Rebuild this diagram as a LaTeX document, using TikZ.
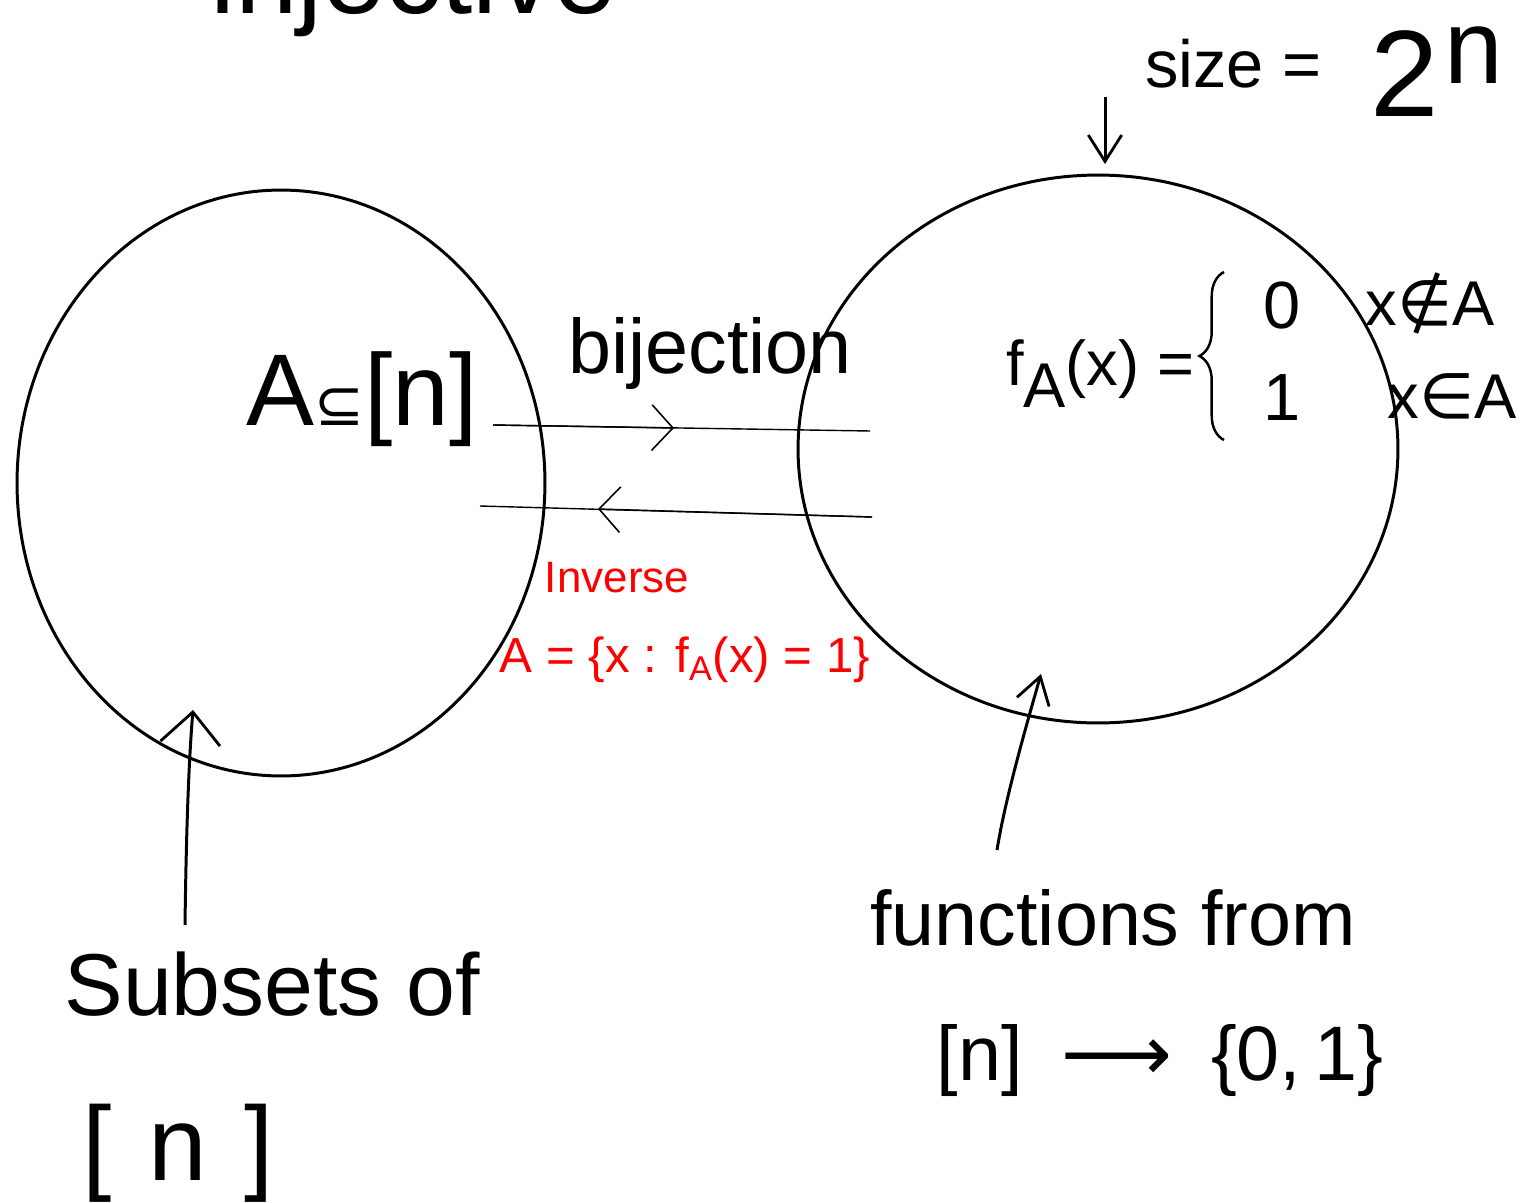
\documentclass[tikz,border=0pt]{standalone}
\usepackage{fontspec}
\setmainfont{Liberation Sans}
\newfontfamily\symf{DejaVu Sans}
\usetikzlibrary{shapes.geometric,arrows.meta,decorations.pathreplacing}
\begin{document}
\begin{tikzpicture}[x=0.02cm,y=-0.02cm,
  ink/.style={line width=1.7pt,black},
  fine/.style={line width=0.8pt,black},
  bigbarb/.style={-{Straight Barb[length=18pt,width=34pt,line width=1.6pt]}},
  barb/.style={-{Straight Barb[length=15pt,width=19pt,line width=1.6pt]}},
  finebarb/.style={-{Straight Barb[length=12pt,width=26pt,line width=0.9pt]}},
  blob/.style={draw,ink,ellipse,inner sep=0pt},
  lbl/.style={inner sep=0pt},
  redlbl/.style={inner sep=0pt,text=red}]
\useasboundingbox (0,0) rectangle (1528,1203);
\clip (0,0) rectangle (1528,1203);

% the two sets
\node[blob,minimum width=10.56cm,minimum height=11.72cm] (L) at (281,483) {};
\node[blob,minimum width=12cm,minimum height=10.96cm] (R) at (1098,449) {};

% partial heading at the top
\node[lbl,anchor=base west,font=\fontsize{64}{64}\selectfont] (head) at (210,14) {injective};

% labels
\node[lbl,anchor=base,font=\fontsize{58}{58}\selectfont] (Asub) at (362,425) {A{\symf\fontsize{34}{34}\selectfont ⊆}[n]};
\node[lbl,anchor=base,font=\fontsize{44}{44}\selectfont] (bij) at (710,373) {bijection};
\node[redlbl,anchor=base,font=\fontsize{25}{25}\selectfont] (inv) at (617,592) {Inverse};
\node[redlbl,anchor=base,font=\fontsize{28}{28}\selectfont] (invA) at (685,672) {A = \{x : f\textsubscript{A}(x) = 1\}};

\node[lbl,anchor=base,font=\fontsize{36}{36}\selectfont] (fA0) at (1100,385) {f\raisebox{-0.35em}{A}(x) =};
\draw[line width=1.4pt,decorate,decoration={brace,amplitude=14pt}] (1224,440) -- (1224,272);
\node[lbl,anchor=base,font=\fontsize{38}{38}\selectfont] (z0) at (1282,328) {0};
\node[lbl,anchor=base,font=\fontsize{38}{38}\selectfont] (z1) at (1282,420) {1};
\node[lbl,anchor=base,font=\fontsize{36}{36}\selectfont] (notin) at (1430,325) {x{\symf ∉}A};
\node[lbl,anchor=base,font=\fontsize{36}{36}\selectfont] (isin) at (1452,418) {x{\symf ∈}A};

\node[lbl,anchor=base west,font=\fontsize{38}{38}\selectfont] (size) at (1145,88) {size =};
\node[lbl,anchor=base,font=\fontsize{70}{70}\selectfont] (two) at (1405,116) {2};
\node[lbl,anchor=base,font=\fontsize{60}{60}\selectfont] (expn) at (1474,84) {n};

\node[lbl,anchor=base,font=\fontsize{50}{50}\selectfont] (subs) at (272,1015) {Subsets of};
\node[lbl,anchor=base,font=\fontsize{60}{60}\selectfont] (subn) at (178,1180) {[\hspace{0.35em}n\hspace{0.35em}]};

\node[lbl,anchor=base,font=\fontsize{44}{44}\selectfont] (funs) at (1113,945) {functions from};
\node[lbl,anchor=base,font=\fontsize{44}{44}\selectfont] (funn) at (1160,1080) {[n]\hspace{0.5em}{\symf ⟶}\hspace{0.5em}\{0,\,1\}};

% connector end points
\coordinate (b1) at (493,425);
\coordinate (bm) at (674,428);
\coordinate (b2) at (870,431);
\coordinate (c1) at (872,517);
\coordinate (cm) at (598,509);
\coordinate (c2) at (480,506);
\coordinate (s1) at (1105,97);
\coordinate (s2) at (1105,164);
\coordinate (l1) at (185,925);
\coordinate (l2) at (193,710);
\coordinate (r1) at (997,850);
\coordinate (r2) at (1041,674);

% bijection and its inverse
\draw[fine] (b1) -- (b2);
\draw[fine,finebarb] (b1) -- (bm);
\draw[fine] (c1) -- (c2);
\draw[fine,finebarb] (c1) -- (cm);

% pointers
\draw[ink,barb] (s1) -- (s2);
\draw[ink,bigbarb] (l1) .. controls (186,850) and (188,770) .. (l2);
\draw[ink,barb] (r1) .. controls (1005,800) and (1025,730) .. (r2);
\end{tikzpicture}
\end{document}
